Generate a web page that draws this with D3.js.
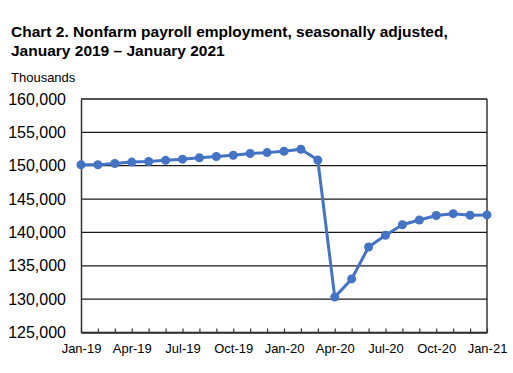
<!doctype html>
<html lang="en">
<head>
<meta charset="UTF-8">
<script src="https://cdnjs.cloudflare.com/ajax/libs/d3/7.0.0/d3.min.js"></script>
<style>
    body { margin: 0; background: #fff; }
    text { font-family: "Liberation Sans", Arial, sans-serif; fill: #000; }
</style>
</head>
<body>
<div id="viz_area"></div>
<script>
    // monthly values, thousands
    const months = ["Jan-19","Feb-19","Mar-19","Apr-19","May-19","Jun-19","Jul-19","Aug-19","Sep-19","Oct-19","Nov-19","Dec-19",
        "Jan-20","Feb-20","Mar-20","Apr-20","May-20","Jun-20","Jul-20","Aug-20","Sep-20","Oct-20","Nov-20","Dec-20","Jan-21"];
    const employment = [150144,150145,150330,150540,150625,150810,150987,151188,151381,151568,151829,151962,
        152176,152463,150840,130303,133028,137809,139570,141149,141865,142545,142809,142582,142631];
    const xTickLabels = ["Jan-19","Apr-19","Jul-19","Oct-19","Jan-20","Apr-20","Jul-20","Oct-20","Jan-21"];
    const yTicks = [125000,130000,135000,140000,145000,150000,155000,160000];

    const W = 513, H = 373;
    const margin = {top: 99, right: 26, bottom: 40.5, left: 81};
    const width = W - margin.left - margin.right,
        height = H - margin.top - margin.bottom;

    const svg = d3.select('#viz_area')
        .append('svg')
        .attr('width', W)
        .attr('height', H);

    // title
    const title = svg.append('text')
        .attr('x', 11)
        .attr('y', 37)
        .style('font-size', '15.5px')
        .style('font-weight', 'bold');
    title.append('tspan').attr('x', 11).text('Chart 2. Nonfarm payroll employment, seasonally adjusted,');
    title.append('tspan').attr('x', 11).attr('dy', 19).text('January 2019 \u2013 January 2021');

    svg.append('text')
        .attr('x', 11)
        .attr('y', 82)
        .style('font-size', '13px')
        .text('Thousands');

    const g = svg.append('g')
        .attr('transform', `translate(${margin.left},${margin.top})`);

    const x = d3.scalePoint()
        .domain(months)
        .range([0, width]);

    const y = d3.scaleLinear()
        .domain([125000, 160000])
        .range([height, 0]);

    // gridlines
    g.selectAll('.grid')
        .data(yTicks)
        .join('line')
        .attr('x1', 0)
        .attr('x2', width)
        .attr('y1', d => y(d))
        .attr('y2', d => y(d))
        .attr('stroke', '#1a1a1a')
        .attr('stroke-width', 1.3);

    // right border
    g.append('line')
        .attr('x1', width).attr('x2', width)
        .attr('y1', 0).attr('y2', height)
        .attr('stroke', '#1a1a1a')
        .attr('stroke-width', 1.3);

    // y axis
    const yAxis = g.append('g')
        .call(d3.axisLeft(y).tickValues(yTicks).tickSize(0).tickPadding(15).tickFormat(d3.format(',')));
    yAxis.select('.domain').attr('stroke', '#333').attr('stroke-width', 1.5);
    yAxis.selectAll('text').style('font-size', '16px').style('font-family', '"Liberation Sans", Arial, sans-serif');

    // x axis, ticks pointing up into the plot
    const xAxis = g.append('g')
        .attr('transform', `translate(0,${height})`)
        .call(d3.axisBottom(x).tickSizeInner(-4).tickSizeOuter(0).tickPadding(11)
            .tickFormat(d => xTickLabels.includes(d) ? d : ''));
    xAxis.select('.domain').attr('stroke', '#333').attr('stroke-width', 1.5);
    xAxis.selectAll('.tick line').attr('stroke', '#333').attr('stroke-width', 1.2);
    xAxis.selectAll('text').style('font-size', '13px').style('font-family', '"Liberation Sans", Arial, sans-serif');

    const line = d3.line()
        .x((d, i) => x(months[i]))
        .y(d => y(d));

    g.append('path')
        .datum(employment)
        .attr('fill', 'none')
        .attr('stroke', '#4472C4')
        .attr('stroke-width', 3)
        .attr('stroke-linejoin', 'round')
        .attr('d', line);

    g.selectAll('circle')
        .data(employment)
        .join('circle')
        .attr('cx', (d, i) => x(months[i]))
        .attr('cy', d => y(d))
        .attr('r', 4.5)
        .attr('fill', '#4472C4');
</script>
</body>
</html>
